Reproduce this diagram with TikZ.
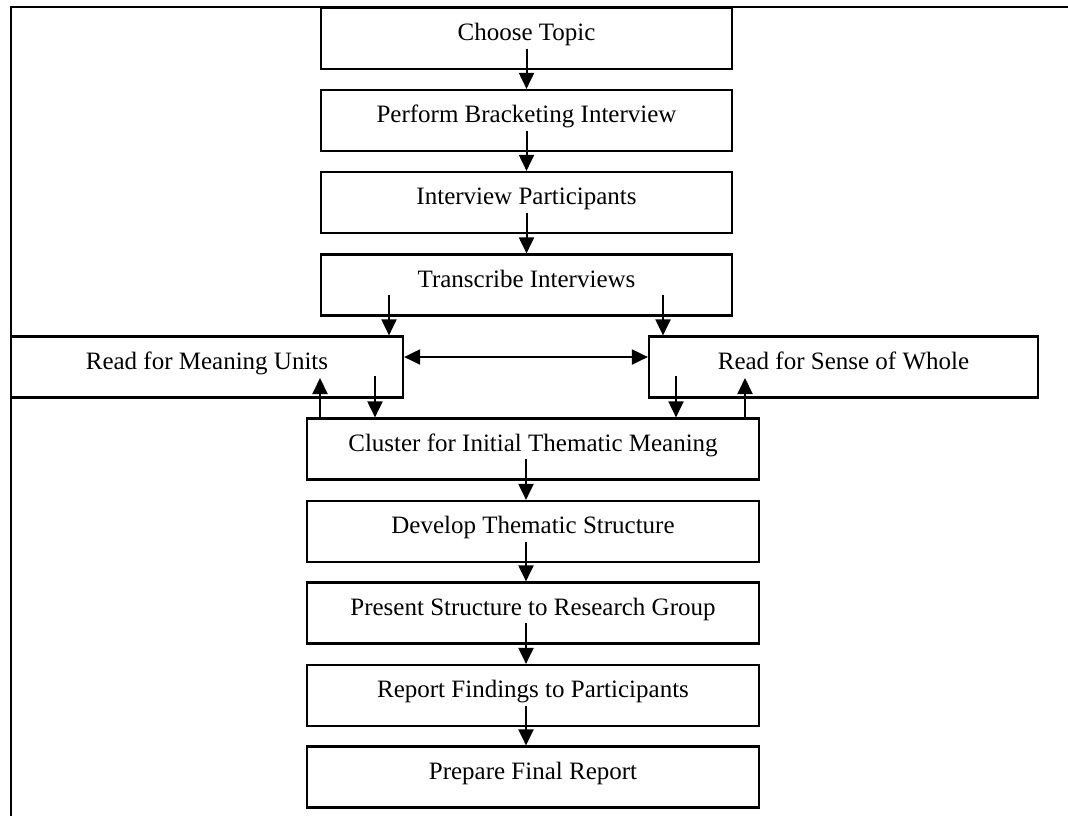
\documentclass[tikz,border=0pt]{standalone}
\usepackage{fontspec}
\setmainfont{Liberation Serif}
\usetikzlibrary{arrows.meta,positioning,calc}

\begin{document}
\begin{tikzpicture}[x=0.5pt,y=-0.5pt,
  box/.style={draw,line width=1.1pt,minimum height=30.5pt,inner xsep=0pt,inner ysep=0pt,text height=9pt,text depth=7pt,font=\fontsize{12.5}{15}\selectfont},
  narrow/.style={box,minimum width=205.5pt},
  wide/.style={box,minimum width=226pt},
  arr/.style={-{Triangle[length=8pt,width=7.5pt]},line width=1pt},
  darr/.style={{Triangle[length=8pt,width=7.5pt]}-{Triangle[length=8pt,width=7.5pt]},line width=1pt}
]
\useasboundingbox (0,0) rectangle (1068,816);
\draw[line width=1.1pt] (1068,7) -- (11,7) -- (11,816);
% upper chain
\node[narrow] (topic) at (526.5,38.5) {Choose Topic};
\node[narrow] (bracket) at (526.5,120.5) {Perform Bracketing Interview};
\node[narrow] (interview) at (526.5,202.5) {Interview Participants};
\node[narrow] (transcribe) at (526.5,285) {Transcribe Interviews};
% two readings
\node[box,minimum width=196pt] (meaning) at (207,367) {Read for Meaning Units};
\node[box,minimum width=194.5pt] (sense) at (843.5,367) {Read for Sense of Whole};
% lower chain
\node[wide] (cluster) at (533,449) {Cluster for Initial Thematic Meaning};
\node[wide] (develop) at (533,531.5) {Develop Thematic Structure};
\node[wide] (present) at (533,613) {Present Structure to Research Group};
\node[wide] (report) at (533,695.5) {Report Findings to Participants};
\node[wide] (final) at (533,777) {Prepare Final Report};

\foreach \a/\b in {topic/bracket,bracket/interview,interview/transcribe}
  \draw[arr] ([yshift=-5pt]\a.center) -- (\b.north);
\draw[arr] ([shift={(-68.75pt,-5pt)}]transcribe.center) -- ([xshift=91pt]meaning.north);
\draw[arr] ([shift={(68.25pt,-5pt)}]transcribe.center) -- ([xshift=-90.25pt]sense.north);
\draw[darr] ([yshift=5pt]meaning.east) -- ([yshift=5pt]sense.west);
\draw[arr] ([shift={(84pt,-4.5pt)}]meaning.center) -- ([xshift=-79pt]cluster.north);
\draw[arr] ([xshift=-106.5pt]cluster.north) -- ([shift={(56.5pt,-5.5pt)}]meaning.center);
\draw[arr] ([shift={(-83.75pt,-4.5pt)}]sense.center) -- ([xshift=71.5pt]cluster.north);
\draw[arr] ([xshift=106pt]cluster.north) -- ([shift={(-49.25pt,-5.5pt)}]sense.center);
\foreach \a/\b in {cluster/develop,develop/present,present/report,report/final}
  \draw[arr] ([shift={(-3.5pt,-5pt)}]\a.center) -- ([xshift=-3.5pt]\b.north);
\end{tikzpicture}
\end{document}
